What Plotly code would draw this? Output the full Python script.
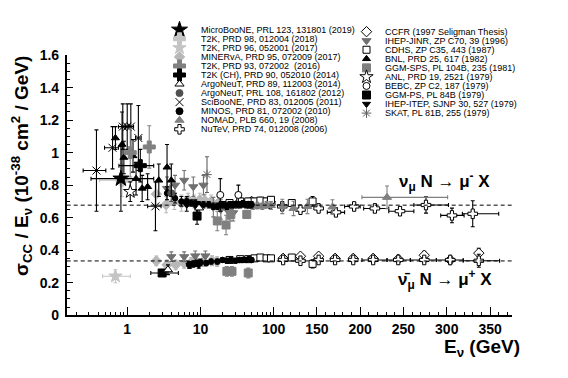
import math
import plotly.graph_objects as go

# ---------------- data (E in GeV, sigma/E in 1e-38 cm^2/GeV) ----------------
NU_LINE = 0.677
NUBAR_LINE = 0.334

X_TICK_E = [1, 10, 100, 150, 200, 250, 300, 350]
X_TICK_TEXT = ["1", "10", "100", "150", "200", "250", "300", "350"]
Y_TICK_V = [0, 0.2, 0.4, 0.6, 0.8, 1.0, 1.2, 1.4, 1.6]
Y_TICK_TEXT = ["0", "0.2", "0.4", "0.6", "0.8", "1", "1.2", "1.4", "1.6"]

MICROBOONE_E = [0.82]
MICROBOONE_V = [0.84]
MICROBOONE_DV = [0.2]
MICROBOONE_XLO = [0.32]
MICROBOONE_XHI = [2.3]

T2K98_E = [0.85]
T2K98_V = [0.83]
T2K98_DV = [0.1]
T2K98_XLO = [0.42]
T2K98_XHI = [1.52]

T2K96_E = [0.69]
T2K96_V = [0.24]
T2K96_DV = [0.04]
T2K96_XLO = [0.46]
T2K96_XHI = [1.1]

MINERVA_E = [2.5, 3.4, 4.4, 5.5, 6.8, 8.2, 9.8, 11.5, 14, 17.5,
             2.5, 3.5, 4.6, 6.0, 7.5, 8.5, 11, 14.4, 16.9]
MINERVA_V = [0.745, 0.68, 0.70, 0.69, 0.71, 0.70, 0.71, 0.705, 0.70, 0.69,
             0.334, 0.31, 0.31, 0.32, 0.325, 0.335, 0.33, 0.335, 0.33]
MINERVA_DV = [0.07, 0.05, 0.05, 0.05, 0.04, 0.04, 0.04, 0.04, 0.04, 0.04,
              0.03, 0.03, 0.03, 0.03, 0.03, 0.03, 0.03, 0.03, 0.03]

T2K93_E = [1.1, 2.0]
T2K93_V = [1.0, 1.035]
T2K93_DV = [0.15, 0.13]

T2KCH_E = [1.51]
T2KCH_V = [0.92]
T2KCH_DV = [0.1]
T2KCH_XLO = [0.77]
T2KCH_XHI = [2.3]

ARGO89_E = [9.6, 3.6]
ARGO89_V = [0.66, 0.28]
ARGO89_DV = [0.03, 0.03]

ARGO108_E = [4.0]
ARGO108_V = [0.75]
ARGO108_DV = [0.05]

SCIBOONE_E = [0.38, 0.63, 0.87, 1.0, 1.12, 1.42, 2.43]
SCIBOONE_V = [0.89, 1.03, 1.16, 1.16, 1.16, 1.09, 0.67]
SCIBOONE_DV = [0.25, 0.13, 0.14, 0.14, 0.14, 0.2, 0.15]
SCIBOONE_XLO = [0.25, 0.49, 0.76, 0.93, 1.04, 1.3, 1.9]
SCIBOONE_XHI = [0.51, 0.76, 0.95, 1.08, 1.22, 1.55, 2.9]

MINOS_E = [3.5, 4.5, 5.5, 6.5, 7.5, 8.5, 9.5, 11, 13, 15, 17, 19, 21, 23, 25, 27, 29, 32, 35, 38, 42, 46, 50,
           7, 8, 9, 10, 12, 14, 17, 20, 23, 26, 30, 34, 38, 42, 46, 50]
MINOS_V = [0.75, 0.72, 0.70, 0.70, 0.69, 0.69, 0.68, 0.68, 0.68, 0.67, 0.67, 0.68, 0.68, 0.67, 0.68, 0.68,
           0.68, 0.68, 0.68, 0.685, 0.68, 0.68, 0.68,
           0.31, 0.315, 0.32, 0.325, 0.32, 0.33, 0.33, 0.34, 0.335, 0.34, 0.335, 0.34, 0.34, 0.34, 0.345, 0.34]
MINOS_DV = [0.04, 0.03, 0.03, 0.03, 0.02, 0.02, 0.02, 0.02, 0.02, 0.02, 0.02, 0.02, 0.02, 0.02, 0.02, 0.02,
            0.02, 0.02, 0.02, 0.02, 0.02, 0.02, 0.02,
            0.02, 0.02, 0.02, 0.02, 0.015, 0.015, 0.015, 0.015, 0.015, 0.015, 0.015, 0.015, 0.015, 0.015, 0.015, 0.015]

NOMAD_E = [45, 52, 60, 70, 80, 92, 110, 123, 139, 168, 231]
NOMAD_V = [0.68, 0.67, 0.675, 0.67, 0.68, 0.675, 0.669, 0.657, 0.669, 0.666, 0.725]
NOMAD_DV = [0.02, 0.02, 0.02, 0.02, 0.02, 0.025, 0.044, 0.044, 0.044, 0.044, 0.07]
NOMAD_XLO = [None] * 10 + [202]
NOMAD_XHI = [None] * 10 + [301]

NUTEV_E = [60, 90, 110, 131, 152, 172, 193, 217, 246, 276, 306, 330,
           111, 131, 152, 171, 192, 215, 244, 274, 304, 337]
NUTEV_V = [0.685, 0.685, 0.67, 0.649, 0.657, 0.633, 0.669, 0.657, 0.64, 0.678, 0.614, 0.624,
           0.34, 0.335, 0.34, 0.34, 0.34, 0.34, 0.34, 0.34, 0.34, 0.335]
NUTEV_DV = [0.015] * 5 + [0.02, 0.02, 0.025, 0.025, 0.05, 0.045, 0.08,
                          0.01, 0.01, 0.01, 0.01, 0.01, 0.012, 0.012, 0.015, 0.02, 0.04]
NUTEV_XLO = [None] * 5 + [162, 182, 204, 233, 262, 293, 318,
                          None, None, None, None, None, 202, 231, 258, 288, 319]
NUTEV_XHI = [None] * 5 + [182, 200, 233, 262, 302, 320, 360,
                          None, None, None, None, None, 231, 258, 288, 319, 361]

CCFR_E = [35, 50, 70, 90, 111, 131, 152, 171, 192, 215, 244, 274, 304, 337]
CCFR_V = [0.70, 0.70, 0.695, 0.70, 0.35, 0.363, 0.363, 0.35, 0.35, 0.35, 0.345, 0.369, 0.34, 0.382]
CCFR_DV = [0.015, 0.015, 0.015, 0.015, 0.01, 0.01, 0.01, 0.01, 0.01, 0.012, 0.012, 0.025, 0.02, 0.03]

IHEPJINR_E = [3.5, 4.5, 6.0, 8.0, 11.0, 15.0, 19.0, 24.0, 28.0, 4.0, 6.0, 8.5, 11.7]
IHEPJINR_V = [0.78, 0.80, 0.83, 0.79, 0.80, 0.665, 0.65, 0.64, 0.63, 0.36, 0.36, 0.365, 0.365]
IHEPJINR_DV = [0.07, 0.06, 0.06, 0.06, 0.06, 0.06, 0.06, 0.05, 0.05, 0.03, 0.03, 0.03, 0.03]

CDHS_E = [25, 35, 45, 55, 66, 80, 92, 121, 145, 25, 35, 45, 55, 66, 80, 92, 121, 145]
CDHS_V = [0.69, 0.70, 0.70, 0.70, 0.705, 0.70, 0.71, 0.69, 0.70,
          0.34, 0.345, 0.345, 0.35, 0.355, 0.35, 0.35, 0.355, 0.316]
CDHS_DV = [0.02] * 8 + [0.03] + [0.015] * 8 + [0.025]

BNL_E = [0.69, 0.85, 0.9, 1.2, 1.32, 1.6, 1.9, 2.7, 3.5, 4.0]
BNL_V = [1.09, 1.05, 0.97, 0.98, 0.84, 0.78, 0.79, 0.83, 0.91, 0.83]
BNL_DV = [0.07, 0.2, 0.1, 0.1, 0.1, 0.08, 0.08, 0.1, 0.14, 0.1]

GGMSPS_E = [17, 22.4, 26, 43, 23, 27, 45]
GGMSPS_V = [0.58, 0.555, 0.62, 0.62, 0.27, 0.27, 0.26]
GGMSPS_DV = [0.06, 0.06, 0.04, 0.025, 0.03, 0.03, 0.03]

ANL_E = [1.1]
ANL_V = [0.76]
ANL_DV = [0.06]

BEBC_E = [18.7, 33]
BEBC_V = [0.74, 0.74]
BEBC_DV = [0.1, 0.06]

GGMPS_E = [9.0, 3.0]
GGMPS_V = [0.61, 0.26]
GGMPS_DV = [0.05, 0.02]
GGMPS_XLO = [None, 2.1]
GGMPS_XHI = [None, 5.0]

IHEPITEP_E = [6.5, 9.0, 7.2, 9.5]
IHEPITEP_V = [0.68, 0.66, 0.31, 0.31]
IHEPITEP_DV = [0.04, 0.04, 0.02, 0.02]

SKAT_E = [12.3]
SKAT_V = [0.865]
SKAT_DV = [0.11]

# ---------------- axis mapping: log up to 100 GeV, linear above ----------------
K = 0.867 / 73.3  # axis units per GeV in the linear part


def u(e):
    return math.log10(e) if e <= 100 else 2 + (e - 100) * K


W, H = 568, 378
X0, X1 = 66.7, 512.3
Y0, Y1 = 49.0, 321.0
U_MIN, U_MAX = math.log10(0.149), 2 + 275.7 * K

LG = "#c4c4c4"
MG = "#808080"
DG = "#505050"

fig = go.Figure()


def add(E, V, DV, symbol, color, size, line=None, lw=1.0, err=None, xlo=None, xhi=None):
    x = [u(e) for e in E]
    ec = err or (line if line else color)
    ex = None
    if xlo is not None:
        plus = [(u(h) - u(e)) if h is not None else 0 for e, h in zip(E, xhi)]
        minus = [(u(e) - u(l)) if l is not None else 0 for e, l in zip(E, xlo)]
        ex = dict(type="data", symmetric=False, array=plus, arrayminus=minus, color=ec, thickness=1.1, width=2)
    fig.add_trace(go.Scatter(
        x=x, y=V, mode="markers", showlegend=False, hoverinfo="skip",
        marker=dict(symbol=symbol, color=color, size=size, line=dict(color=line or color, width=lw)),
        error_y=dict(type="data", array=DV, color=ec, thickness=1.1, width=2),
        error_x=ex,
    ))


# styles: name -> (symbol, color, size, line color)
STY = {
    "MicroBooNE": ("star", "black", 12, None),
    "T2K98": ("cross", LG, 10, None),
    "T2K96": ("star", LG, 10, None),
    "MINERvA": ("diamond", "#b8b8b8", 8, None),
    "T2K93": ("cross", MG, 10, None),
    "T2KCH": ("cross", "black", 10, None),
    "Argo89": ("triangle-up", "white", 8, "black"),
    "Argo108": ("circle", DG, 7, None),
    "SciBooNE": ("x-thin-open", "black", 8, None),
    "MINOS": ("circle", "black", 5.5, None),
    "NOMAD": ("triangle-up", MG, 8, None),
    "NuTeV": ("cross", "white", 8, "black"),
    "CCFR": ("diamond", "white", 8, "black"),
    "IHEPJINR": ("triangle-down", "#707070", 8, None),
    "CDHS": ("square", "white", 7, "black"),
    "BNL": ("triangle-up", "black", 7, None),
    "GGMSPS": ("square", MG, 8, None),
    "ANL": ("star", "white", 10, "black"),
    "BEBC": ("circle", "white", 7, "black"),
    "GGMPS": ("square", "black", 8, None),
    "IHEPITEP": ("triangle-down", "black", 7, None),
    "SKAT": ("asterisk-open", "#606060", 8, None),
}


def st(name):
    s, c, z, l = STY[name]
    return dict(symbol=s, color=c, size=z, line=l)


add(CCFR_E, CCFR_V, CCFR_DV, **st("CCFR"))
add(NUTEV_E, NUTEV_V, NUTEV_DV, xlo=NUTEV_XLO, xhi=NUTEV_XHI, **st("NuTeV"))
add(CDHS_E, CDHS_V, CDHS_DV, **st("CDHS"))
add(NOMAD_E, NOMAD_V, NOMAD_DV, xlo=NOMAD_XLO, xhi=NOMAD_XHI, **st("NOMAD"))
add(MINERVA_E, MINERVA_V, MINERVA_DV, **st("MINERvA"))
add(IHEPJINR_E, IHEPJINR_V, IHEPJINR_DV, **st("IHEPJINR"))
add(GGMSPS_E, GGMSPS_V, GGMSPS_DV, **st("GGMSPS"))
add(MINOS_E, MINOS_V, MINOS_DV, **st("MINOS"))
add(BEBC_E, BEBC_V, BEBC_DV, **st("BEBC"))
add(GGMPS_E, GGMPS_V, GGMPS_DV, xlo=GGMPS_XLO, xhi=GGMPS_XHI, **st("GGMPS"))
add(IHEPITEP_E, IHEPITEP_V, IHEPITEP_DV, **st("IHEPITEP"))
add(SKAT_E, SKAT_V, SKAT_DV, **st("SKAT"))
add(ARGO108_E, ARGO108_V, ARGO108_DV, **st("Argo108"))
add(ARGO89_E, ARGO89_V, ARGO89_DV, **st("Argo89"))
add(T2K96_E, T2K96_V, T2K96_DV, xlo=T2K96_XLO, xhi=T2K96_XHI, **st("T2K96"))
add(T2K98_E, T2K98_V, T2K98_DV, xlo=T2K98_XLO, xhi=T2K98_XHI, **st("T2K98"))
add(BNL_E, BNL_V, BNL_DV, **st("BNL"))
add(ANL_E, ANL_V, ANL_DV, **st("ANL"))
add(SCIBOONE_E, SCIBOONE_V, SCIBOONE_DV, xlo=SCIBOONE_XLO, xhi=SCIBOONE_XHI, **st("SciBooNE"))
add(T2K93_E, T2K93_V, T2K93_DV, **st("T2K93"))
add(T2KCH_E, T2KCH_V, T2KCH_DV, xlo=T2KCH_XLO, xhi=T2KCH_XHI, **st("T2KCH"))
add(MICROBOONE_E, MICROBOONE_V, MICROBOONE_DV, xlo=MICROBOONE_XLO, xhi=MICROBOONE_XHI, **st("MicroBooNE"))

# reference dashed lines
for yv in (NU_LINE, NUBAR_LINE):
    fig.add_shape(type="line", xref="x domain", yref="y", x0=0, x1=1, y0=yv, y1=yv,
                  line=dict(color="black", width=1, dash="4px,3px"))

# ---------------- legend (drawn manually, compact rows) ----------------
LEFT = [
    ("MicroBooNE", "MicroBooNE, PRL 123, 131801 (2019)"),
    ("T2K98", "T2K, PRD 98, 012004 (2018)"),
    ("T2K96", "T2K, PRD 96, 052001 (2017)"),
    ("MINERvA", "MINERvA, PRD 95, 072009 (2017)"),
    ("T2K93", "T2K, PRD 93, 072002  (2016)"),
    ("T2KCH", "T2K (CH), PRD 90, 052010 (2014)"),
    ("Argo89", "ArgoNeuT, PRD 89, 112003 (2014)"),
    ("Argo108", "ArgoNeuT, PRL 108, 161802 (2012)"),
    ("SciBooNE", "SciBooNE, PRD 83, 012005 (2011)"),
    ("MINOS", "MINOS, PRD 81, 072002 (2010)"),
    ("NOMAD", "NOMAD, PLB 660, 19 (2008)"),
    ("NuTeV", "NuTeV, PRD 74, 012008 (2006)"),
]
RIGHT = [
    ("CCFR", "CCFR (1997 Seligman Thesis)"),
    ("IHEPJINR", "IHEP-JINR, ZP C70, 39 (1996)"),
    ("CDHS", "CDHS, ZP C35, 443 (1987)"),
    ("BNL", "BNL, PRD 25, 617 (1982)"),
    ("GGMSPS", "GGM-SPS, PL 104B, 235 (1981)"),
    ("ANL", "ANL, PRD 19, 2521 (1979)"),
    ("BEBC", "BEBC, ZP C2, 187 (1979)"),
    ("GGMPS", "GGM-PS, PL 84B (1979)"),
    ("IHEPITEP", "IHEP-ITEP, SJNP 30, 527 (1979)"),
    ("SKAT", "SKAT, PL 81B, 255 (1979)"),
]
LEG_SIZE = {"MINOS": 7}
ROW = 9.45
annos = []
for col, (mx, tx, y0) in ((LEFT, (179.5, 199.0, 22.7)), (RIGHT, (366.5, 382.5, 24.7))):
    for i, (key, label) in enumerate(col):
        yy = y0 + i * ROW
        s, c, z, l = STY[key]
        fig.add_trace(go.Scatter(
            x=[mx], y=[yy], xaxis="x2", yaxis="y2", mode="markers", showlegend=False, hoverinfo="skip",
            marker=dict(symbol=s, color=c, size=LEG_SIZE.get(key, z), line=dict(color=l or c, width=1))))
        annos.append(dict(x=tx / W, y=1 - yy / H, xref="paper", yref="paper", text=label, showarrow=False,
                          xanchor="left", yanchor="middle",
                          font=dict(family="Liberation Sans, Arial", size=9, color="black")))

TF = dict(family="Liberation Sans, Arial", color="black", weight="bold")
annos += [
    dict(x=21 / W, y=1 - 165 / H, xref="paper", yref="paper", textangle=-90, showarrow=False,
         xanchor="center", yanchor="middle",
         text="σ<sub>CC</sub> / E<sub>ν</sub> (10<sup>-38</sup> cm<sup>2</sup> / GeV)",
         font=dict(size=19, **TF)),
    dict(x=482 / W, y=1 - 355 / H, xref="paper", yref="paper", showarrow=False,
         xanchor="center", yanchor="middle",
         text="E<sub>ν</sub> (GeV)", font=dict(size=19, **TF)),
    dict(x=444 / W, y=1 - 181 / H, xref="paper", yref="paper", showarrow=False,
         xanchor="center", yanchor="middle",
         text="ν<sub>μ</sub> N → μ<sup>-</sup> X", font=dict(size=17, **TF)),
    dict(x=445 / W, y=1 - 283 / H, xref="paper", yref="paper", showarrow=False,
         xanchor="center", yanchor="middle",
         text="ν\u0304<sub>μ</sub> N → μ<sup>+</sup> X", font=dict(size=17, **TF)),
]

log_minor = [m * 10 ** d for d in (-1, 0, 1) for m in range(2, 10) if m * 10 ** d > 0.15]
lin_minor = [e for e in range(110, 371, 10) if e % 50 != 0]

fig.update_layout(
    width=W, height=H, margin=dict(l=0, r=0, t=0, b=0),
    paper_bgcolor="white", plot_bgcolor="rgba(0,0,0,0)",
    annotations=annos,
    xaxis=dict(domain=[X0 / W, X1 / W], range=[U_MIN, U_MAX], anchor="y",
               showline=True, linecolor="black", linewidth=1.5, showgrid=False, zeroline=False,
               tickmode="array", tickvals=[u(e) for e in X_TICK_E], ticktext=X_TICK_TEXT,
               ticks="inside", ticklen=9, tickwidth=1.2, tickcolor="black",
               tickfont=dict(size=14, **TF),
               minor=dict(tickmode="array", tickvals=[u(e) for e in log_minor + lin_minor],
                          ticks="inside", ticklen=4, tickwidth=1, tickcolor="black")),
    yaxis=dict(domain=[1 - Y1 / H, 1 - Y0 / H], range=[-0.001, 1.601], anchor="x",
               showline=True, linecolor="black", linewidth=1.5, showgrid=False, zeroline=False,
               tickmode="array", tickvals=Y_TICK_V, ticktext=Y_TICK_TEXT,
               ticks="inside", ticklen=7, tickwidth=1.2, tickcolor="black",
               tickfont=dict(size=14, **TF), ticklabelstandoff=3,
               minor=dict(dtick=0.05, ticks="inside", ticklen=4, tickwidth=1, tickcolor="black")),
    xaxis2=dict(domain=[0, 1], range=[0, W], anchor="y2", visible=False, fixedrange=True),
    yaxis2=dict(domain=[0, 1], range=[H, 0], anchor="x2", visible=False, fixedrange=True),
)

fig.write_html("out.html", config={"displayModeBar": False},
               post_script="document.body.style.margin='0';")
